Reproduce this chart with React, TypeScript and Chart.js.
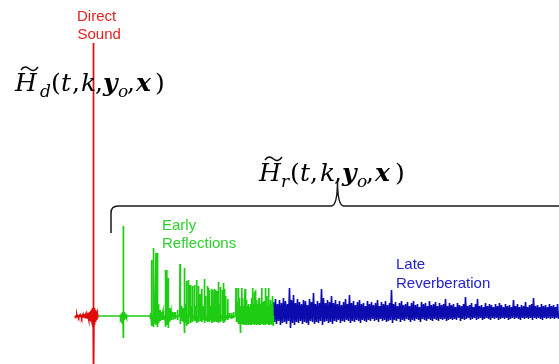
import React, { useEffect, useRef } from "react";
import { Chart, registerables } from "chart.js";
Chart.register(...registerables);

// Time axis in samples, amplitude in arbitrary units (baseline = 0)
const timeMin = 0;
const timeMax = 559;
const ampMin = -48;
const ampMax = 316;

// Direct sound (red)
const redTimes = [75.5, 77, 78.5, 80, 81.5, 83, 84.5, 86, 87.5, 88.7, 89.8, 90.8, 91.8, 92.7, 93.5, 94.3, 95.2, 96.2, 97.2];
const redHigh = [0.6, 0.8, 1, 1.2, 1.4, 1.7, 2, 2.4, 2.8, 3.3, 4, 5, 6.5, 8, 273, 8, 6, 4, 2.5];
const redLow = [-0.6, -0.8, -1, -1.2, -1.4, -1.7, -2, -2.4, -2.8, -3.3, -4, -5, -6.5, -9, -60, -9, -6, -4, -2.5];

// Early reflections (green)
const greenTimes = [
  120.5, 121.5, 122.5, 123.3, 124.3, 125.3, 126.3,
  150.5, 151.7, 153.3, 154.5, 156, 157.3, 158.5, 160, 161.5, 163,
  165.3, 166.7, 168, 169.5, 171, 173, 175, 177.5, 180, 181.5, 183, 184.3, 185.5,
  186.7, 188.3, 190, 191.2, 192.3, 194.3, 195.5, 196.7, 198.3, 200, 201.7, 203,
  204.3, 205.5, 207.3, 208.3, 209.3, 210.5, 211.7, 212.8, 214.3, 215.3, 216.7,
  218.3, 219.3, 220.3, 222.3, 223.3, 224.5, 225.7, 227.7, 229.5, 231.5, 233.5,
  236, 237.2, 238.3, 239.3, 240.3, 241.7, 242.8, 244, 245, 246.2, 247.3, 248.5,
  249.6, 250.7, 251.7, 252.7, 253.7, 254.6, 255.6, 256.7, 257.8, 259, 260.2,
  261.7, 263, 264.2, 265.3, 266.7, 267.7, 268.7, 269.8, 270.8, 271.8, 272.8,
];
const greenHigh = [
  1.5, 2.5, 4, 90, 4, 2.5, 1.5,
  3, 56, 68, 20, 63, 63, 12, 6, 4, 5,
  46, 46, 38, 8, 5, 4, 4, 6, 52, 10, 8, 48, 12,
  35, 36, 31, 10, 30, 31, 10, 36, 30, 22, 27, 10,
  37, 20, 30, 28, 26, 10, 27, 26, 27, 26, 25,
  34, 12, 29, 26, 33, 27, 20, 17, 3, 3, 4,
  28, 14, 28, 18, 10, 28, 18, 10, 27, 16, 10, 12,
  9, 12, 18, 28, 12, 24, 26, 16, 12, 18, 12,
  28, 14, 15, 28, 20, 10, 28, 12, 16, 12, 20,
];
const greenLow = [
  -1.5, -2.5, -4, -22, -4, -2.5, -1.5,
  -3, -10, -11, -8, -9, -11, -7, -5, -4, -4,
  -11, -9, -12, -6, -4, -3, -3, -4, -8, -5, -6, -17, -6,
  -10, -8, -7, -5, -6, -5, -4, -7, -6, -5, -6, -4,
  -7, -5, -6, -5, -6, -4, -7, -5, -6, -5, -6,
  -7, -5, -6, -5, -7, -6, -4, -4, -2, -3, -2,
  -6, -6, -8, -5, -17, -8, -8, -8, -9, -9, -8, -9,
  -8, -9, -9, -8, -8, -9, -8, -9, -8, -9, -9,
  -8, -9, -8, -9, -8, -8, -9, -8, -8, -8, -9,
];

// Late reverberation (blue): peak / trough per 2-sample step
const blueStart = 273;
const blueStep = 2;
const blueHigh = [
  14, 17, 12, 16, 13, 18, 15, 12, 28, 16,
  21, 13, 17, 14, 12, 16, 15, 11, 17, 14,
  23, 12, 15, 13, 27, 18, 13, 16, 14, 20,
  13, 16, 12, 15, 11, 14, 17, 12, 21, 13,
  15, 11, 14, 16, 12, 13, 10, 15, 12, 14,
  11, 13, 16, 10, 14, 12, 15, 11, 13, 26,
  12, 14, 10, 13, 15, 11, 12, 14, 10, 13,
  15, 11, 12, 9, 14, 12, 13, 10, 15, 11,
  12, 14, 10, 13, 11, 12, 17, 10, 13, 11,
  12, 9, 13, 11, 10, 12, 19, 10, 11, 13,
  9, 12, 17, 10, 11, 9, 13, 10, 12, 11,
  9, 12, 10, 13, 11, 9, 12, 10, 11, 9,
  16, 10, 12, 9, 11, 10, 14, 9, 11, 12,
  18, 10, 11, 9, 12, 10, 11, 9, 12, 10,
  11, 9, 12,
];
const blueLow = [
  -6, -8, -5, -9, -7, -6, -8, -5, -12, -7,
  -9, -6, -7, -5, -8, -6, -7, -9, -5, -6,
  -8, -6, -7, -5, -9, -6, -5, -7, -6, -8,
  -5, -6, -4, -7, -5, -6, -4, -5, -7, -5,
  -6, -4, -5, -7, -4, -5, -6, -4, -5, -3,
  -5, -4, -6, -3, -5, -4, -6, -5, -4, -7,
  -4, -5, -3, -6, -4, -5, -3, -4, -6, -4,
  -5, -3, -4, -6, -3, -4, -5, -3, -4, -5,
  -3, -4, -5, -3, -4, -3, -5, -4, -3, -4,
  -3, -4, -2, -5, -3, -4, -3, -2, -4, -3,
  -2, -4, -3, -2, -4, -3, -2, -3, -4, -2,
  -3, -2, -4, -3, -2, -3, -2, -4, -3, -2,
  -3, -2, -3, -4, -2, -3, -2, -3, -2, -4,
  -2, -3, -2, -3, -4, -2, -3, -2, -3, -2,
  -3, -2, -3,
];

const labelDirect = ["Direct", "Sound"];
const labelEarly = ["Early", "Reflections"];
const labelLate = ["Late", "Reverberation"];

type P = { x: number; y: number };

function spikes(times: number[], hi: number[], lo: number[], start: number, end: number): P[] {
  const pts: P[] = [{ x: start, y: 0 }];
  times.forEach((t, i) => {
    pts.push({ x: t - 0.25, y: 0 }, { x: t, y: hi[i] }, { x: t + 0.25, y: lo[i] }, { x: t + 0.5, y: 0 });
  });
  pts.push({ x: end, y: 0 });
  return pts;
}

function zigzag(start: number, step: number, hi: number[], lo: number[]): P[] {
  const pts: P[] = [{ x: start, y: 0 }];
  hi.forEach((h, i) => {
    pts.push({ x: start + i * step + 0.5, y: h }, { x: start + i * step + 1.5, y: lo[i] });
  });
  return pts;
}

function drawFormula(ctx: CanvasRenderingContext2D, x0: number, base: number, sub: string, off: number[]) {
  const fam = "'DejaVu Serif'";
  const main = 25;
  const small = 17;
  ctx.save();
  ctx.fillStyle = "#000";
  ctx.textBaseline = "alphabetic";
  ctx.textAlign = "left";
  const put = (s: string, dx: number, font: string, dy = 0) => {
    ctx.font = font;
    ctx.fillText(s, x0 + dx, base + dy);
  };
  put("H", off[0], `italic ${main}px ${fam}`);
  // tilde accent
  ctx.strokeStyle = "#000";
  ctx.lineWidth = 1.4;
  ctx.beginPath();
  const tx = x0 + off[0] + 6;
  const ty = base - 22.5;
  ctx.moveTo(tx, ty + 1.5);
  ctx.bezierCurveTo(tx + 3, ty - 3, tx + 6, ty - 1.5, tx + 8.5, ty + 0.5);
  ctx.bezierCurveTo(tx + 11, ty + 2.5, tx + 14, ty + 3, tx + 17, ty - 1.5);
  ctx.stroke();
  put(sub, off[1], `italic ${small}px ${fam}`, 6);
  put("(", off[2], `${main}px ${fam}`);
  put("t", off[3], `italic ${main}px ${fam}`);
  put(",", off[4], `${main}px ${fam}`);
  put("k", off[5], `italic ${main}px ${fam}`);
  put(",", off[6], `${main}px ${fam}`);
  put("y", off[7], `bold italic ${main}px ${fam}`);
  put("o", off[8], `italic ${small}px ${fam}`, 6);
  put(",", off[9], `${main}px ${fam}`);
  put("x", off[10], `bold italic ${main}px ${fam}`);
  put(")", off[11], `${main}px ${fam}`);
  ctx.restore();
}

const annotations = {
  id: "annotations",
  afterDatasetsDraw(chart: Chart) {
    const ctx = chart.ctx;
    const xs = chart.scales.x;
    const ys = chart.scales.y;
    ctx.save();
    // brace over reflections
    const bx0 = xs.getPixelForValue(111);
    const bx1 = xs.getPixelForValue(timeMax);
    const bmid = xs.getPixelForValue(337.5);
    const by = ys.getPixelForValue(110);
    const btip = ys.getPixelForValue(135);
    const bfoot = ys.getPixelForValue(83);
    ctx.strokeStyle = "#1a1a1a";
    ctx.lineWidth = 1.5;
    ctx.beginPath();
    ctx.moveTo(bx0, bfoot);
    ctx.lineTo(bx0, by + 7);
    ctx.quadraticCurveTo(bx0, by, bx0 + 7, by);
    ctx.lineTo(bmid - 6, by);
    ctx.quadraticCurveTo(bmid, by - 1, bmid, btip);
    ctx.quadraticCurveTo(bmid, by - 1, bmid + 6, by);
    ctx.lineTo(bx1, by);
    ctx.stroke();

    ctx.font = "15px 'Liberation Sans'";
    ctx.textAlign = "left";
    ctx.textBaseline = "alphabetic";
    ctx.fillStyle = "#e52222";
    ctx.fillText(labelDirect[0], 77, 20.5);
    ctx.fillText(labelDirect[1], 77.5, 39);
    ctx.fillStyle = "#2ad22a";
    ctx.fillText(labelEarly[0], 162, 229.5);
    ctx.fillText(labelEarly[1], 162, 247.5);
    ctx.fillStyle = "#2222cc";
    ctx.fillText(labelLate[0], 396, 269);
    ctx.fillText(labelLate[1], 396, 288);

    drawFormula(ctx, 15, 91, "d", [0, 25, 36, 46, 57, 66, 80, 88, 103, 112, 121, 140]);
    drawFormula(ctx, 259, 181, "r", [0, 22, 31, 41, 51, 61, 75, 83, 98, 107, 116, 136]);
    ctx.restore();
  },
};

export default function App() {
  const ref = useRef<HTMLCanvasElement | null>(null);
  useEffect(() => {
    document.body.style.margin = "0";
    if (!ref.current) return;
    const chart = new Chart(ref.current, {
      type: "line",
      data: {
        datasets: [
          {
            label: "Direct sound",
            data: spikes(redTimes, redHigh, redLow, 75, 97.7),
            borderColor: "#e00a0a",
            borderWidth: 1.7,
            pointRadius: 0,
            tension: 0,
            order: 1,
          },
          {
            label: "Early reflections",
            data: spikes(greenTimes, greenHigh, greenLow, 97.7, 273.5),
            borderColor: "#1ecc14",
            borderWidth: 1.7,
            pointRadius: 0,
            tension: 0,
            order: 2,
          },
          {
            label: "Late reverberation",
            data: zigzag(blueStart, blueStep, blueHigh, blueLow),
            borderColor: "#0c0cae",
            borderWidth: 1.6,
            pointRadius: 0,
            tension: 0,
            order: 3,
          },
        ],
      },
      options: {
        animation: false,
        responsive: false,
        parsing: false,
        normalized: true,
        layout: { padding: 0 },
        plugins: { legend: { display: false }, tooltip: { enabled: false } },
        scales: {
          x: { type: "linear", min: timeMin, max: timeMax, display: false },
          y: { type: "linear", min: ampMin, max: ampMax, display: false },
        },
      },
      plugins: [annotations],
    });
    return () => chart.destroy();
  }, []);
  return (
    <div style={{ width: 559, height: 364, background: "#fff" }}>
      <canvas ref={ref} width={559} height={364} />
    </div>
  );
}
